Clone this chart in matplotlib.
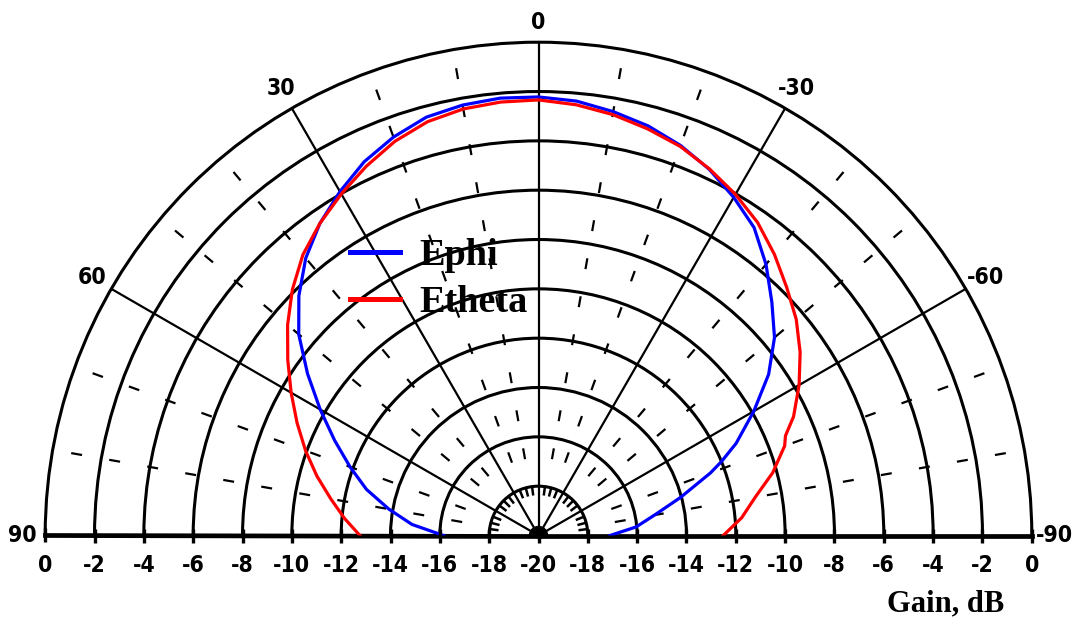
import numpy as np
import matplotlib
matplotlib.use("Agg")
import matplotlib.pyplot as plt
from matplotlib.transforms import offset_copy

# Radiation pattern, elevation cut (degrees from zenith, positive to the left)
angles_deg = [90, 85, 80, 75, 70, 65, 60, 55, 50, 45, 40, 35, 30, 25, 20, 15, 10, 5, 0,
              -5, -10, -15, -20, -25, -30, -35, -40, -45, -50, -55, -60, -65, -68, -70,
              -75, -80, -85, -90]
ephi_db = [-16.15, -14.85, -13.84, -12.78, -11.87, -10.88, -9.78, -8.57, -7.31, -6.26,
           -5.32, -4.55, -3.90, -3.28, -2.81, -2.44, -2.28, -2.20, -2.22,
           -2.32, -2.55, -2.81, -3.17, -3.62, -4.17, -4.76, -5.65, -6.62, -7.51, -8.61,
           -9.92, -11.16, -12.0, -12.58, -14.04, -15.22, -16.03, -17.10]
etheta_db = [-12.76, -12.11, -11.45, -10.70, -9.95, -9.20, -8.42, -7.59, -6.72, -5.89,
             -5.14, -4.55, -4.01, -3.48, -2.99, -2.63, -2.44, -2.36, -2.34,
             -2.47, -2.67, -2.93, -3.21, -3.60, -4.03, -4.51, -5.12, -5.77, -6.36, -7.05,
             -7.80, -8.59, -9.20, -9.38, -10.17, -11.08, -11.73, -12.51]

gain_ticks = [0, -2, -4, -6, -8, -10, -12, -14, -16, -18]
gain_center = -20
angle_ticks = [90, 60, 30, 0, -30, -60, -90]
angle_tick_labels = ["90", "60", "30", "0", "-30", "-60", "-90"]
spoke_angles = [-60, -30, 0, 30, 60]

W, H = 1074, 621
fig = plt.figure(figsize=(W / 100, H / 100), dpi=100)
fig.patch.set_facecolor("white")

# half-disk polar axes: centre at the -20 dB point on the baseline.
# The wedge is laid out in a square box with the centre at 1/4 height.
cx, cy, R = 538.5, 535.5, 493.3
ax = fig.add_axes([(cx - R) / W, ((H - cy) - R / 2) / H, 2 * R / W, 2 * R / H],
                  projection="polar")
ax.set_theta_zero_location("N")
ax.set_theta_direction(1)
ax.set_thetamin(-90)
ax.set_thetamax(90)
ax.set_ylim(-20, 0)
ax.set_facecolor("white")

ax.set_rgrids(np.arange(-18, 0, 2))
ax.set_yticklabels([])
ax.set_thetagrids(spoke_angles)
ax.set_xticklabels([])
ax.tick_params(length=0)
ax.yaxis.grid(True, color="black", lw=2.2, ls="-")
ax.xaxis.grid(True, color="black", lw=1.6, ls="-")
ax.spines["polar"].set_linewidth(2.2)
ax.spines["start"].set_linewidth(3.4)
ax.spines["end"].set_linewidth(3.4)
ax.spines["inner"].set_visible(False)

px_per_db = R / 20.0

# short radial dashes between the spokes
dash_dirs = [10, 20, 40, 50, 70, 80]
dash_levels = [-20 + (469 - k * 38.6) / px_per_db for k in range(11)]
half = 5.5 / px_per_db
th_list, r_list = [], []
for a in dash_dirs + [-d for d in dash_dirs]:
    t = np.deg2rad(a)
    for r in dash_levels:
        th_list += [t, t, np.nan]
        r_list += [r - half, r + half, np.nan]
ax.plot(th_list, r_list, color="black", lw=1.6, solid_capstyle="butt", zorder=2)

# fine angular ticks inside the innermost ring, every 7.5 degrees
th_list, r_list = [], []
for k in range(-11, 12):
    if k % 4 == 0:
        continue
    t = np.deg2rad(7.5 * k)
    th_list += [t, t, np.nan]
    r_list += [-18 - 9.0 / px_per_db, -18, np.nan]
ax.plot(th_list, r_list, color="black", lw=1.8, solid_capstyle="butt", zorder=2)

# solid hub at the centre
arc = np.linspace(-np.pi / 2, np.pi / 2, 60)
hub_r = -20 + 9.0 / px_per_db
ax.fill(np.r_[arc, np.pi / 2, -np.pi / 2], np.r_[np.full(arc.size, hub_r), -20, -20],
        color="black", zorder=3, clip_on=False)

# pattern curves
th = np.deg2rad(angles_deg)
ax.plot(th, ephi_db, color="#0000ff", lw=2.3, label="Ephi", zorder=4)
ax.plot(th, etheta_db, color="#ff0000", lw=2.3, label="Etheta", zorder=4)

# baseline ticks and gain labels
digit_font = dict(family="DejaVu Sans", stretch="condensed", weight="bold", size=16.5)
for side in (np.pi / 2, -np.pi / 2):
    ax.plot(np.full(len(gain_ticks), side), gain_ticks, ls="none", marker="|",
            ms=10.5, mew=2.4, color="black", clip_on=False, zorder=5)
below = offset_copy(ax.transData, fig=fig, x=0, y=-30, units="dots")
for side in (np.pi / 2, -np.pi / 2):
    for g in gain_ticks:
        ax.text(side, g, str(g), transform=below, ha="center", va="center",
                clip_on=False, **digit_font)
ax.plot([0], [gain_center], ls="none", marker="|", ms=10.5, mew=2.4, color="black",
        clip_on=False, zorder=5)
ax.text(0, gain_center, str(gain_center), transform=below, ha="center", va="center",
        clip_on=False, **digit_font)

# angle labels outside the outer ring
for a, s in zip(angle_ticks, angle_tick_labels):
    rr = 0.8 if a == 0 else 0.92
    ax.text(np.deg2rad(a), rr, s, ha="center", va="center", clip_on=False, **digit_font)

leg = fig.legend(loc="upper left", bbox_to_anchor=(350 / W, 1 - 238 / H),
                 frameon=False, borderpad=0, borderaxespad=0, handlelength=1.32,
                 handletextpad=0.5, labelspacing=0.32,
                 prop=dict(family="Liberation Serif", weight="bold", size=27.5))
for line in leg.get_lines():
    line.set_linewidth(3.6)

fig.text(946 / W, 1 - 611.5 / H, "Gain, dB", ha="center", va="baseline",
         family="Liberation Serif", weight="bold", size=22)

fig.savefig("out.png", dpi=100, facecolor="white")
